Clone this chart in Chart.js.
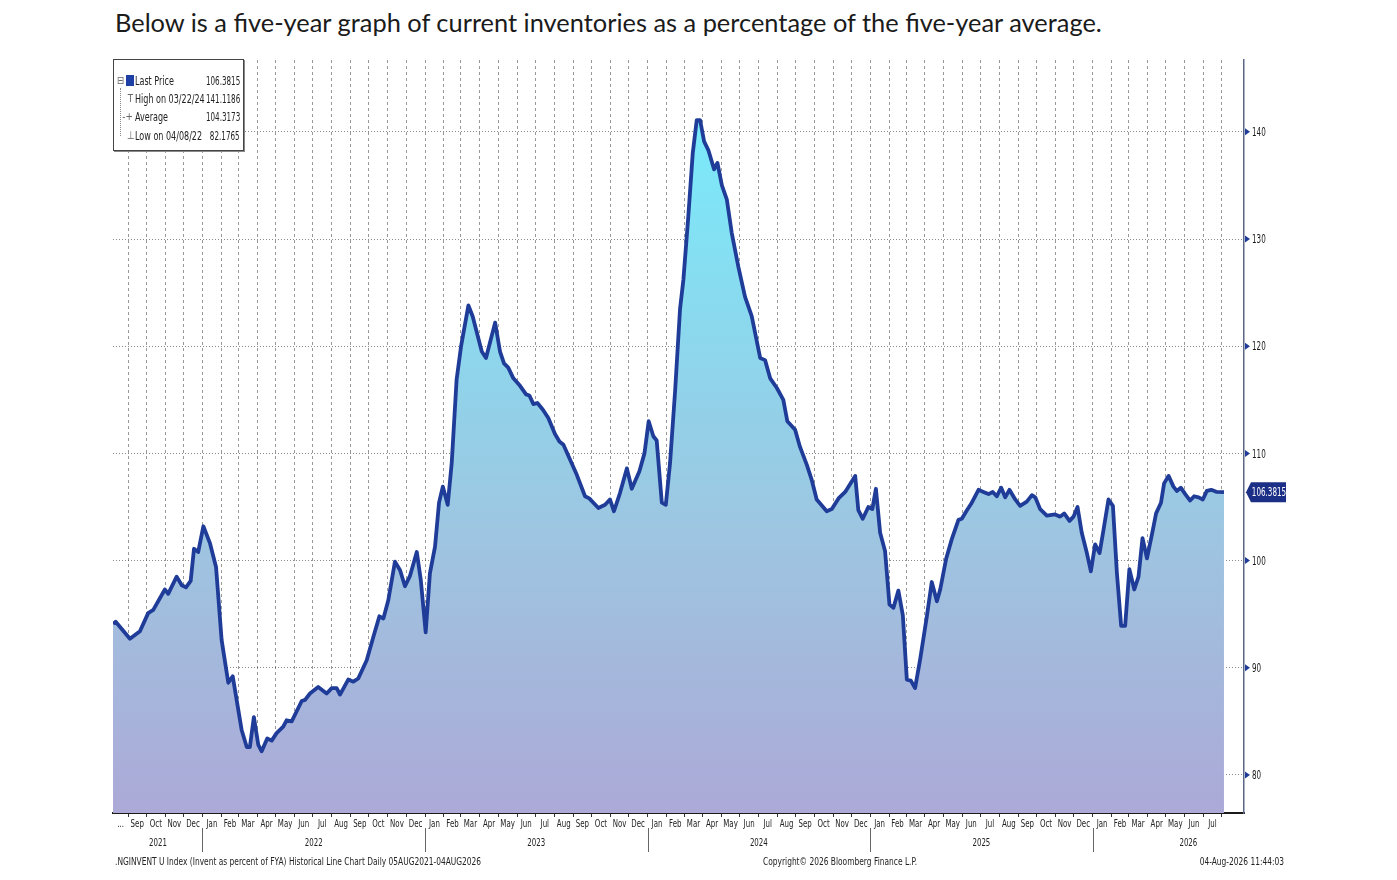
<!DOCTYPE html>
<html>
<head>
<meta charset="utf-8">
<script src="https://cdn.jsdelivr.net/npm/chart.js@4.4.1/dist/chart.umd.min.js"></script>
<style>
  html, body { margin: 0; padding: 0; background: #fff; }
  body { width: 1397px; height: 880px; position: relative; overflow: hidden; }
  #title { position: absolute; left: 115px; top: 7px; font: 400 25.4px Lato, sans-serif; color: #1b1b1b; white-space: nowrap; }
  #chart { position: absolute; left: 0; top: 0; }
  .narrow { font-family: 'DejaVu Sans', sans-serif; }
  #legend { position: absolute; left: 113px; top: 59px; width: 129px; height: 90px; background: #fff;
            border: 1px solid #444; box-shadow: 1px 1px 0 #888; font-size: 12px; color: #222; }
  #legend .row { position: absolute; left: 0; right: 0; height: 16px; line-height: 16px; white-space: nowrap; }
  #legend .lab { position: absolute; left: 21px; transform: scaleX(0.67); transform-origin: left center; }
  #legend .val { position: absolute; right: 3px; transform: scaleX(0.6); transform-origin: right center; }
  #legend .ico { position: absolute; color: #666; font-size: 11px; transform: scaleX(0.8); }
  #legend .sq { position: absolute; left: 12px; top: 2px; width: 8px; height: 11px; background: #1d3fa6; }
  #legend .stem { position: absolute; left: 6px; top: 28px; height: 48px; border-left: 1px dotted #888; }
  .foot { position: absolute; top: 855px; font-size: 11px; color: #222; white-space: nowrap; line-height: 14px;
          transform: scaleX(0.68); transform-origin: left center; }
  .foot.right { transform-origin: right center; }
</style>
</head>
<body>
<div id="title">Below is a five-year graph of current inventories as a percentage of the five-year average.</div>
<canvas id="chart" width="1397" height="880"></canvas>

<div id="legend" class="narrow">
  <div class="stem"></div>
  <div class="row" style="top:13px"><span class="ico" style="left:2px">⊟</span><span class="sq"></span><span class="lab">Last Price</span><span class="val">106.3815</span></div>
  <div class="row" style="top:31px"><span class="ico" style="left:13px">T</span><span class="lab">High on 03/22/24</span><span class="val">141.1186</span></div>
  <div class="row" style="top:49px"><span class="ico" style="left:7px">-+</span><span class="lab">Average</span><span class="val">104.3173</span></div>
  <div class="row" style="top:68px"><span class="ico" style="left:12px">⊥</span><span class="lab">Low on 04/08/22</span><span class="val">82.1765</span></div>
</div>

<div class="foot narrow" style="left:115px">.NGINVENT U Index (Invent as percent of FYA) Historical Line Chart Daily 05AUG2021-04AUG2026</div>
<div class="foot narrow" style="left:763px">Copyright© 2026 Bloomberg Finance L.P.</div>
<div class="foot narrow right" style="right:113px">04-Aug-2026 11:44:03</div>

<script>
const labelFont = "'DejaVu Sans', sans-serif";

const dates = [
  2021.598, 2021.610, 2021.674, 2021.719, 2021.756, 2021.779, 2021.831, 2021.846, 2021.884, 2021.907,
  2021.926, 2021.947, 2021.962, 2021.981, 2022.004, 2022.034, 2022.061, 2022.086, 2022.116, 2022.136,
  2022.176, 2022.199, 2022.213, 2022.231, 2022.251, 2022.266, 2022.291, 2022.311, 2022.333, 2022.363,
  2022.378, 2022.401, 2022.446, 2022.461, 2022.483, 2022.520, 2022.558, 2022.581, 2022.603, 2022.618,
  2022.655, 2022.678, 2022.700, 2022.738, 2022.768, 2022.795, 2022.813, 2022.835, 2022.865, 2022.888,
  2022.910, 2022.933, 2022.963, 2022.981, 2023.003, 2023.022, 2023.045, 2023.063, 2023.080, 2023.102,
  2023.120, 2023.142, 2023.162, 2023.195, 2023.214, 2023.255, 2023.274, 2023.315, 2023.337, 2023.355,
  2023.374, 2023.397, 2023.427, 2023.454, 2023.469, 2023.487, 2023.505, 2023.529, 2023.554, 2023.584,
  2023.604, 2023.622, 2023.652, 2023.682, 2023.719, 2023.738, 2023.779, 2023.809, 2023.831, 2023.849,
  2023.876, 2023.907, 2023.929, 2023.963, 2023.986, 2024.005, 2024.026, 2024.041, 2024.064, 2024.082,
  2024.101, 2024.124, 2024.146, 2024.161, 2024.183, 2024.203, 2024.221, 2024.236, 2024.254, 2024.273,
  2024.299, 2024.314, 2024.334, 2024.356, 2024.378, 2024.408, 2024.438, 2024.468, 2024.506, 2024.528,
  2024.551, 2024.581, 2024.610, 2024.628, 2024.663, 2024.685, 2024.716, 2024.738, 2024.760, 2024.805,
  2024.828, 2024.858, 2024.888, 2024.933, 2024.947, 2024.967, 2024.992, 2025.010, 2025.026, 2025.045,
  2025.067, 2025.087, 2025.105, 2025.127, 2025.147, 2025.165, 2025.183, 2025.202, 2025.225, 2025.255,
  2025.277, 2025.300, 2025.315, 2025.342, 2025.367, 2025.397, 2025.412, 2025.435, 2025.454, 2025.487,
  2025.509, 2025.532, 2025.551, 2025.569, 2025.589, 2025.607, 2025.626, 2025.652, 2025.674, 2025.704,
  2025.727, 2025.742, 2025.764, 2025.794, 2025.831, 2025.854, 2025.872, 2025.896, 2025.914, 2025.932,
  2025.951, 2025.974, 2025.992, 2026.011, 2026.031, 2026.049, 2026.071, 2026.091, 2026.109, 2026.128,
  2026.146, 2026.165, 2026.187, 2026.206, 2026.224, 2026.244, 2026.266, 2026.285, 2026.307, 2026.321,
  2026.341, 2026.363, 2026.378, 2026.396, 2026.416, 2026.438, 2026.456, 2026.476, 2026.495, 2026.513,
  2026.533, 2026.558, 2026.590,
];

// inventories as % of five-year average
const values = [
  94.1, 94.3, 92.7, 93.4, 95.1, 95.4, 97.3, 96.9, 98.5, 97.7,
  97.5, 98.1, 101.1, 100.8, 103.2, 101.6, 99.4, 92.6, 88.6, 89.2,
  84.2, 82.6, 82.6, 85.4, 82.8, 82.2, 83.4, 83.2, 83.9, 84.5,
  85.1, 85.0, 86.9, 87.0, 87.6, 88.2, 87.6, 88.1, 88.1, 87.5,
  88.9, 88.7, 89.0, 90.7, 92.9, 94.8, 94.6, 96.3, 99.9, 99.1,
  97.6, 98.6, 100.8, 98.2, 93.3, 98.8, 101.3, 105.4, 106.9, 105.2,
  109.1, 116.9, 120.0, 123.8, 122.8, 119.5, 118.9, 122.2, 119.5, 118.4,
  118.0, 117.0, 116.3, 115.5, 115.4, 114.6, 114.7, 114.1, 113.3, 111.8,
  111.1, 110.8, 109.4, 108.0, 106.0, 105.8, 104.9, 105.2, 105.7, 104.6,
  106.3, 108.6, 106.7, 108.3, 110.0, 113.0, 111.6, 111.2, 105.4, 105.2,
  109.1, 115.9, 123.5, 126.2, 132.1, 138.0, 141.1, 141.1, 139.1, 138.3,
  136.5, 137.1, 135.0, 133.7, 130.6, 127.4, 124.6, 122.8, 118.9, 118.7,
  117.0, 116.1, 115.0, 113.0, 112.2, 110.6, 108.9, 107.5, 105.7, 104.6,
  104.8, 105.8, 106.4, 107.9, 104.7, 103.9, 105.0, 104.8, 106.7, 102.6,
  100.9, 95.9, 95.6, 97.2, 94.9, 88.9, 88.8, 88.1, 90.8, 94.8,
  98.0, 96.2, 97.3, 100.2, 102.0, 103.8, 103.9, 104.7, 105.3, 106.6,
  106.4, 106.2, 106.4, 106.0, 106.8, 105.9, 106.6, 105.7, 105.1, 105.5,
  106.1, 105.9, 104.8, 104.2, 104.3, 104.1, 104.4, 103.7, 104.1, 105.0,
  102.6, 100.7, 99.0, 101.5, 100.7, 102.9, 105.7, 105.1, 98.8, 93.9,
  93.9, 99.2, 97.3, 98.5, 102.1, 100.2, 102.4, 104.4, 105.4, 107.2,
  107.9, 106.9, 106.5, 106.8, 106.2, 105.6, 106.0, 105.9, 105.7, 106.5,
  106.6, 106.4, 106.3815,
];

const lastPrice = 106.3815;
const monthNames = ['Jan', 'Feb', 'Mar', 'Apr', 'May', 'Jun', 'Jul', 'Aug', 'Sep', 'Oct', 'Nov', 'Dec'];
const yTicks = [80, 90, 100, 110, 120, 130, 140];
const yearLabels = ['2021', '2022', '2023', '2024', '2025', '2026'];
const yearCenters = [2021.80, 2022.5, 2023.5, 2024.5, 2025.5, 2026.43];
const yearBreaks = [2022, 2023, 2024, 2025, 2026];

const xMin = 2021.598;
const xMax = 2026.68;
const yMin = 76.45;
const yMax = 146.7;

function monthStart(year, month) {
  const start = Date.UTC(year, 0, 1);
  const end = Date.UTC(year + 1, 0, 1);
  return year + (Date.UTC(year, month, 1) - start) / (end - start);
}

// month grid positions, each with the middle of its month for the label
const monthTicks = [{ value: xMin, mid: (xMin + monthStart(2021, 8)) / 2, label: '...' }];
for (let y = 2021; y <= 2026; y++) {
  for (let m = 0; m < 12; m++) {
    const v = monthStart(y, m);
    if (v > xMin && v < 2026.6) {
      const next = m === 11 ? monthStart(y + 1, 0) : monthStart(y, m + 1);
      monthTicks.push({ value: v, mid: (v + next) / 2, label: v < 2026.55 ? monthNames[m] : '' });
    }
  }
}

function narrowText(ctx, text, x, y, align, sx) {
  ctx.save();
  ctx.translate(x, y);
  ctx.scale(sx, 1);
  ctx.textAlign = align;
  ctx.fillText(text, 0, 0);
  ctx.restore();
}

const decorations = {
  id: 'decorations',
  afterDraw(chart) {
    const { ctx, chartArea, scales: { x, y } } = chart;
    ctx.save();
    ctx.textBaseline = 'middle';

    // month labels under the axis
    ctx.font = '11px ' + labelFont;
    ctx.fillStyle = '#222';
    monthTicks.forEach((t) => {
      if (t.label) narrowText(ctx, t.label, x.getPixelForValue(t.mid), chartArea.bottom + 11, 'center', 0.64);
    });

    // year separators + year labels
    ctx.strokeStyle = '#666';
    ctx.lineWidth = 1;
    yearBreaks.forEach((v) => {
      const px = Math.round(x.getPixelForValue(v)) + 0.5;
      ctx.beginPath();
      ctx.moveTo(px, chartArea.bottom + 15);
      ctx.lineTo(px, chartArea.bottom + 39);
      ctx.stroke();
    });
    yearLabels.forEach((t, i) => {
      narrowText(ctx, t, x.getPixelForValue(yearCenters[i]), chartArea.bottom + 30, 'center', 0.64);
    });

    // right axis: arrow markers and labels
    ctx.font = '12px ' + labelFont;
    yTicks.forEach((v) => {
      const py = y.getPixelForValue(v);
      ctx.fillStyle = '#1f3c98';
      ctx.beginPath();
      ctx.moveTo(chartArea.right + 1, py - 3.5);
      ctx.lineTo(chartArea.right + 6, py);
      ctx.lineTo(chartArea.right + 1, py + 3.5);
      ctx.closePath();
      ctx.fill();
      ctx.fillStyle = '#1a1a1a';
      narrowText(ctx, String(v), chartArea.right + 8, py + 1, 'left', 0.6);
    });

    // last price tag
    const py = y.getPixelForValue(lastPrice);
    const left = chartArea.right + 2;
    ctx.fillStyle = '#1c2f86';
    ctx.beginPath();
    ctx.moveTo(left, py);
    ctx.lineTo(left + 5, py - 10);
    ctx.lineTo(left + 40, py - 10);
    ctx.lineTo(left + 40, py + 10);
    ctx.lineTo(left + 5, py + 10);
    ctx.closePath();
    ctx.fill();
    ctx.fillStyle = '#fff';
    narrowText(ctx, lastPrice.toFixed(4), left + 23, py + 1, 'center', 0.6);

    ctx.restore();
  },
};

new Chart(document.getElementById('chart'), {
  type: 'line',
  data: {
    datasets: [{
      label: 'Last Price',
      data: dates.map((d, i) => ({ x: d, y: values[i] })),
      borderColor: '#1f3c98',
      borderWidth: 3.8,
      borderJoinStyle: 'round',
      pointRadius: 0,
      tension: 0,
      fill: 'start',
      backgroundColor: (context) => {
        const area = context.chart.chartArea;
        if (!area) return '#9cc7e2';
        const g = context.chart.ctx.createLinearGradient(0, area.top, 0, area.bottom);
        g.addColorStop(0, '#74f0ff');
        g.addColorStop(0.3, '#88dcf0');
        g.addColorStop(0.62, '#9dc6e1');
        g.addColorStop(1, '#aca9d7');
        return g;
      },
    }],
  },
  options: {
    responsive: false,
    animation: false,
    layout: { padding: { left: 113, top: 60, right: 103, bottom: 47 } },
    plugins: {
      legend: { display: false },
      tooltip: { enabled: false },
    },
    scales: {
      x: {
        type: 'linear',
        min: xMin,
        max: xMax,
        z: 1,
        afterBuildTicks: (scale) => {
          scale.ticks = monthTicks.map((t) => ({ value: t.value }));
        },
        afterFit: (scale) => { scale.height = 20; },
        ticks: { display: false, autoSkip: false, maxRotation: 0 },
        grid: {
          color: (c) => (c.index === 0 ? 'rgba(0,0,0,0)' : 'rgba(70,70,70,0.55)'),
          lineWidth: 1,
          drawTicks: true,
          tickLength: 4,
          tickColor: (c) => (c.index === 0 ? 'rgba(0,0,0,0)' : '#333'),
          tickBorderDash: [],
        },
        border: { display: true, color: '#1a1a1a', width: 2, dash: [3, 3] },
      },
      y: {
        type: 'linear',
        position: 'right',
        min: yMin,
        max: yMax,
        z: 1,
        afterBuildTicks: (scale) => {
          scale.ticks = yTicks.map((v) => ({ value: v }));
        },
        afterFit: (scale) => { scale.width = 50; },
        ticks: { display: false },
        grid: {
          color: 'rgba(60,60,60,0.6)',
          lineWidth: 1,
          drawTicks: false,
        },
        border: { display: true, color: '#5c6788', width: 1.5, dash: [1, 2] },
      },
    },
  },
  plugins: [decorations],
});
</script>
</body>
</html>
